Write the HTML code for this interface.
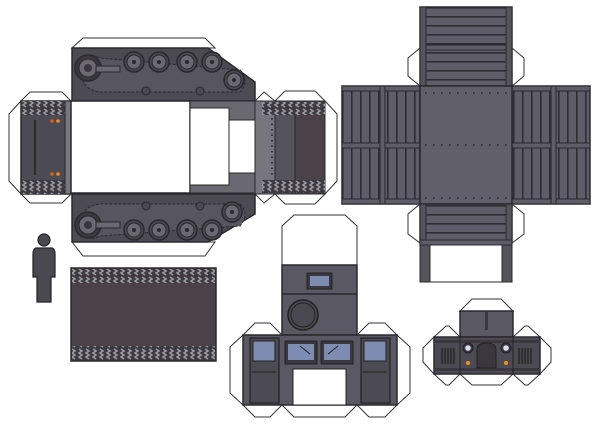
<!DOCTYPE html>
<html><head><meta charset="utf-8"><style>
html,body{margin:0;padding:0;background:#fff;width:600px;height:425px;overflow:hidden}
svg{display:block}
</style></head><body>
<svg width="600" height="425" viewBox="0 0 600 425" xmlns="http://www.w3.org/2000/svg">
<defs>
<pattern id="tread" x="0" y="0" width="7" height="12" patternUnits="userSpaceOnUse">
<rect width="7" height="12" fill="#3c3a40"/>
<path d="M2 1 L5 3 L2 5 L5 7 L2 9 L5 11" stroke="#9a98a0" stroke-width="1.6" fill="none"/>
</pattern>
<pattern id="vplank" x="342" y="0" width="9" height="10" patternUnits="userSpaceOnUse">
<rect width="9" height="10" fill="#5f5d68"/><rect x="0" width="1.6" height="10" fill="#2e2d33"/>
</pattern>
<pattern id="hplank" x="0" y="7" width="10" height="9" patternUnits="userSpaceOnUse">
<rect width="10" height="9" fill="#5f5d68"/><rect y="0" width="10" height="1.6" fill="#2e2d33"/>
</pattern>
<g id="wheel"><circle r="10" fill="#4a4850" stroke="#2a292e" stroke-width="1.5"/><circle r="7" fill="#6a6870" stroke="#2a292e"/><circle r="2" fill="#2a292e"/></g>
<g id="spro"><circle r="13" fill="#3a383e" stroke="#2a292e" stroke-width="1.5"/><circle r="9" fill="#6a6870" stroke="#2a292e"/><circle r="4" fill="#3a383e"/></g>
</defs>
<g stroke="#333" stroke-width="1">
<!-- white flaps -->
<polygon points="72,48 83,38 205,38 215,48" fill="#fff"/>
<polygon points="72,242 83,256 205,256 215,242" fill="#fff"/>
<polygon points="21,101 9,114 9,181 21,194" fill="#fff"/>
<polygon points="325,101 337,114 337,181 325,194" fill="#fff"/>
<polygon points="255,101 264,92 275,101" fill="#fff"/>
<polygon points="275,101 285,91 315,91 325,101" fill="#fff"/>
<polygon points="255,194 264,203 275,194" fill="#fff"/>
<polygon points="275,194 285,204 315,204 325,194" fill="#fff"/>
<polygon points="21,101 30,92 62,92 71,101" fill="#fff"/>
<polygon points="21,194 30,203 62,203 71,194" fill="#fff"/>
</g>
<!-- top track panel -->
<polygon points="72,48 208,48 255,82 255,101 72,101" fill="#4c4a52" stroke="#2a292e" stroke-width="1.5"/>
<path d="M80,60 Q88,52 100,58 L240,70 Q250,80 240,92 L100,92 Q78,90 80,60Z" fill="#57555e" stroke="#2a292e" stroke-dasharray="3 1.5"/>
<use href="#spro" x="88" y="68"/>
<use href="#wheel" x="134" y="62"/><use href="#wheel" x="159" y="62"/>
<use href="#wheel" x="187" y="62"/><use href="#wheel" x="212" y="62"/>
<use href="#wheel" x="234" y="80"/>
<circle cx="146" cy="91" r="4" fill="#4a4850" stroke="#2a292e"/><circle cx="200" cy="91" r="4" fill="#4a4850" stroke="#2a292e"/>
<rect x="96" y="66" width="24" height="6" fill="#6a6870" stroke="#2a292e"/>
<!-- bottom track panel -->
<polygon points="72,194 255,194 255,214 208,242 72,242" fill="#4c4a52" stroke="#2a292e" stroke-width="1.5"/>
<path d="M80,232 Q88,242 100,236 L240,226 Q250,214 240,204 L100,204 Q78,206 80,232Z" fill="#57555e" stroke="#2a292e" stroke-dasharray="3 1.5"/>
<use href="#spro" x="88" y="225"/>
<use href="#wheel" x="134" y="230"/><use href="#wheel" x="159" y="230"/>
<use href="#wheel" x="187" y="230"/><use href="#wheel" x="212" y="230"/>
<use href="#wheel" x="232" y="212"/>
<circle cx="146" cy="206" r="4" fill="#4a4850" stroke="#2a292e"/><circle cx="200" cy="206" r="4" fill="#4a4850" stroke="#2a292e"/>
<rect x="96" y="222" width="24" height="6" fill="#6a6870" stroke="#2a292e"/>
<!-- middle row -->
<rect x="21" y="101" width="50" height="93" fill="#4c4a52" stroke="#2a292e" stroke-width="1.5"/>
<rect x="21" y="101" width="50" height="14" fill="url(#tread)"/>
<rect x="21" y="180" width="50" height="14" fill="url(#tread)"/>
<rect x="65" y="101" width="6" height="93" fill="#77757e" stroke="#2a292e"/>
<line x1="35" y1="120" x2="35" y2="175" stroke="#222" stroke-width="1.5"/>
<circle cx="52" cy="121" r="1.8" fill="#e0601a"/><circle cx="58" cy="121" r="1.8" fill="#f0901a"/>
<circle cx="52" cy="174" r="1.8" fill="#e0601a"/><circle cx="58" cy="174" r="1.8" fill="#f0901a"/>
<rect x="71" y="101" width="119" height="92" fill="#fff" stroke="#2a292e" stroke-width="1.5"/>
<rect x="190" y="101" width="65" height="92" fill="#6a6870" stroke="#2a292e"/>
<rect x="190" y="108" width="39" height="77" fill="#fff" stroke="#2a292e"/>
<rect x="229" y="120" width="26" height="53" fill="#fff" stroke="#2a292e"/>
<rect x="255" y="101" width="20" height="93" fill="#77757e" stroke="#2a292e"/>
<rect x="275" y="101" width="20" height="93" fill="#55535c" stroke="#2a292e"/>
<rect x="295" y="101" width="30" height="93" fill="#4a4149" stroke="#2a292e"/>
<rect x="262" y="102" width="63" height="13" fill="url(#tread)"/>
<rect x="262" y="180" width="63" height="13" fill="url(#tread)"/>
<line x1="272" y1="118" x2="272" y2="176" stroke="#222" stroke-width="1.6" stroke-dasharray="1.5 4"/>
<!-- person -->
<g fill="#4a4850" stroke="#222" stroke-width="1.2">
<circle cx="44" cy="240" r="6"/>
<path d="M36,248 L52,248 Q55,249 55,254 L55,277 L51,277 L51,302 L37,302 L37,277 L33,277 L33,254 Q33,249 36,248Z"/>
</g>
<!-- track strip -->
<rect x="71" y="268" width="145" height="93" fill="#4a4149" stroke="#2a292e" stroke-width="1.5"/>
<rect x="72" y="269" width="143" height="14" fill="url(#tread)"/>
<rect x="72" y="346" width="143" height="14" fill="url(#tread)"/>
<!-- big box top right -->
<g stroke="#333" stroke-width="1" fill="#fff">
<polygon points="420,48 408,58 408,76 420,86"/>
<polygon points="512,48 524,58 524,76 512,86"/>
<polygon points="420,204 408,214 408,234 420,243"/>
<polygon points="512,204 524,214 524,234 512,243"/>
</g>
<rect x="420" y="7" width="92" height="79" fill="url(#hplank)" stroke="#2a292e" stroke-width="1.5"/>
<rect x="420" y="45" width="92" height="5" fill="#5f5d68" stroke="#2a292e"/>
<rect x="420" y="7" width="6" height="79" fill="#55535c" stroke="#2a292e"/>
<rect x="506" y="7" width="6" height="79" fill="#55535c" stroke="#2a292e"/>
<rect x="342" y="86" width="78" height="118" fill="url(#vplank)" stroke="#2a292e" stroke-width="1.5"/>
<rect x="512" y="86" width="78" height="118" fill="url(#vplank)" stroke="#2a292e" stroke-width="1.5"/>
<g fill="#5f5d68" stroke="#2a292e">
<rect x="342" y="86" width="78" height="5"/><rect x="342" y="143" width="78" height="5"/><rect x="342" y="199" width="78" height="5"/>
<rect x="512" y="86" width="78" height="5"/><rect x="512" y="143" width="78" height="5"/><rect x="512" y="199" width="78" height="5"/>
<rect x="380" y="86" width="5" height="118"/><rect x="551" y="86" width="5" height="118"/>
</g>
<rect x="420" y="86" width="92" height="118" fill="#615f6a" stroke="#2a292e" stroke-width="1.5"/>
<g stroke="#222" stroke-width="1.6" stroke-dasharray="1.5 6.5">
<line x1="425" y1="93" x2="512" y2="93"/><line x1="425" y1="145" x2="512" y2="145"/><line x1="425" y1="198" x2="512" y2="198"/>
</g>
<rect x="420" y="204" width="92" height="39" fill="url(#hplank)" stroke="#2a292e" stroke-width="1.5"/>
<rect x="420" y="204" width="6" height="39" fill="#55535c" stroke="#2a292e"/>
<rect x="506" y="204" width="6" height="39" fill="#55535c" stroke="#2a292e"/>
<rect x="420" y="240" width="92" height="5" fill="#5f5d68" stroke="#2a292e"/>
<rect x="420" y="245" width="10" height="37" fill="#55535c" stroke="#2a292e"/>
<rect x="502" y="245" width="10" height="37" fill="#55535c" stroke="#2a292e"/>
<rect x="430" y="245" width="72" height="37" fill="#fff" stroke="#2a292e"/>
<!-- cabin piece -->
<g stroke="#333" stroke-width="1" fill="#fff">
<polygon points="282,226 294,215 345,215 357,226 357,265 282,265"/>
<polygon points="243,335 230,347 230,393 243,405"/>
<polygon points="397,335 410,347 410,393 397,405"/>
<polygon points="243,335 255,323 270,323 282,335"/>
<polygon points="357,335 369,323 385,323 397,335"/>
<polygon points="243,405 255,417 270,417 282,405"/>
<polygon points="282,405 294,417 345,417 357,405"/>
<polygon points="357,405 369,417 385,417 397,405"/>
</g>
<rect x="282" y="265" width="75" height="70" fill="#5a5862" stroke="#2a292e" stroke-width="1.5"/>
<line x1="282" y1="294" x2="357" y2="294" stroke="#2a292e" stroke-width="1.5"/>
<rect x="307" y="273" width="25" height="16" fill="#3a383e" stroke="#222"/>
<rect x="310" y="276" width="19" height="10" fill="#7d8cb0"/>
<circle cx="303" cy="315" r="15" fill="#4a4850" stroke="#222" stroke-width="1.5"/>
<circle cx="303" cy="315" r="12" fill="none" stroke="#222"/>
<rect x="243" y="335" width="154" height="70" fill="#5a5862" stroke="#2a292e" stroke-width="1.5"/>
<rect x="250" y="338" width="29" height="65" fill="#4c4a52" stroke="#222" stroke-width="1.2"/>
<rect x="361" y="338" width="29" height="65" fill="#4c4a52" stroke="#222" stroke-width="1.2"/>
<rect x="253" y="341" width="22" height="20" fill="#7d8cb0" stroke="#222"/>
<rect x="364" y="341" width="22" height="20" fill="#7d8cb0" stroke="#222"/>
<line x1="252" y1="372" x2="276" y2="372" stroke="#222"/><line x1="363" y1="372" x2="387" y2="372" stroke="#222"/>
<rect x="285" y="341" width="32" height="23" fill="#3a383e" stroke="#222"/>
<rect x="321" y="341" width="32" height="23" fill="#3a383e" stroke="#222"/>
<rect x="288" y="344" width="26" height="16" fill="#7d8cb0"/>
<rect x="324" y="344" width="26" height="16" fill="#7d8cb0"/>
<line x1="300" y1="346" x2="310" y2="354" stroke="#222"/><line x1="338" y1="346" x2="328" y2="354" stroke="#222"/>
<rect x="293" y="369" width="53" height="36" fill="#fff" stroke="#222"/>
<!-- front grille piece -->
<g stroke="#333" stroke-width="1" fill="#fff">
<polygon points="460,311 472,299 501,299 513,311"/>
<polygon points="434,337 423,348 423,362 434,374"/>
<polygon points="540,337 551,348 551,362 540,374"/>
<polygon points="434,337 446,326 449,326 460,337"/>
<polygon points="513,337 525,326 528,326 540,337"/>
<polygon points="434,374 446,385 449,385 460,374"/>
<polygon points="460,374 472,385 501,385 513,374"/>
<polygon points="513,374 525,385 528,385 540,374"/>
</g>
<rect x="460" y="311" width="53" height="26" fill="#5a5862" stroke="#2a292e" stroke-width="1.5"/>
<rect x="485" y="312" width="3" height="18" fill="#3a383e"/>
<rect x="434" y="337" width="106" height="37" fill="#4c4a52" stroke="#2a292e" stroke-width="1.5"/>
<rect x="434" y="340" width="106" height="3" fill="#3a383e"/>
<rect x="434" y="368" width="106" height="3" fill="#3a383e"/>
<line x1="460" y1="337" x2="460" y2="374" stroke="#222"/><line x1="513" y1="337" x2="513" y2="374" stroke="#222"/>
<g stroke="#222" stroke-width="1.3">
<line x1="442" y1="348" x2="442" y2="364"/><line x1="445" y1="348" x2="445" y2="364"/><line x1="448" y1="348" x2="448" y2="364"/><line x1="451" y1="348" x2="451" y2="364"/><line x1="454" y1="348" x2="454" y2="364"/>
<line x1="519" y1="348" x2="519" y2="364"/><line x1="522" y1="348" x2="522" y2="364"/><line x1="525" y1="348" x2="525" y2="364"/><line x1="528" y1="348" x2="528" y2="364"/><line x1="531" y1="348" x2="531" y2="364"/>
</g>
<path d="M477,368 L477,350 Q477,343 486,343 Q496,343 496,350 L496,368Z" fill="#3a383e" stroke="#222"/>
<circle cx="468" cy="348" r="5" fill="#3a383e" stroke="#222"/><circle cx="468" cy="348" r="2.8" fill="#d8dcf0"/>
<circle cx="506" cy="348" r="5" fill="#3a383e" stroke="#222"/><circle cx="506" cy="348" r="2.8" fill="#d8dcf0"/>
<circle cx="468" cy="363" r="2" fill="#f0901a"/><circle cx="506" cy="363" r="2" fill="#f0901a"/>
</svg>
</body></html>
